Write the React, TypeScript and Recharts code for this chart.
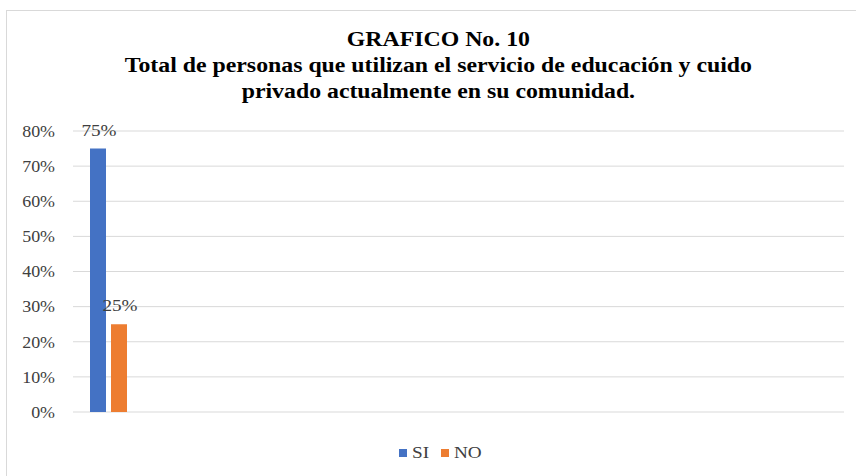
import { Bar, BarChart, CartesianGrid, LabelList, Legend, XAxis, YAxis } from "recharts";

const categories = ["Actualmente"];
const seriesNames = ["SI", "NO"];
const seriesColors = ["#4472C4", "#ED7D31"];
const siValues = [75];
const noValues = [25];
const yTicks = [0, 10, 20, 30, 40, 50, 60, 70, 80];

const data = categories.map((name, i) => ({ name, SI: siValues[i], NO: noValues[i] }));

const serif = '"Liberation Serif", "Times New Roman", serif';
const stretch = 1.2;

const pct = (v: number) => `${v}%`;

// Excel export looks horizontally stretched, so text is widened a bit
const YTick = ({ x, y, payload }: any) => (
  <text
    transform={`translate(${x},${y}) scale(1.12,1)`}
    textAnchor="end"
    dy="0.36em"
    fontSize={16}
    fontFamily={serif}
    fill="#404040"
  >
    {pct(payload.value)}
  </text>
);

const BarLabel = ({ x, y, width, value }: any) => (
  <text
    transform={`translate(${Number(x) + Number(width) / 2 + 1},${Number(y) - 13}) scale(${stretch},1)`}
    textAnchor="middle"
    fontSize={16}
    fontFamily={serif}
    fill="#404040"
  >
    {pct(value)}
  </text>
);

const LegendContent = () => (
  <div style={{ display: "flex", justifyContent: "center", alignItems: "center", height: 18, paddingLeft: 36 }}>
    {seriesNames.map((name, i) => (
      <div key={name} style={{ display: "flex", alignItems: "center", marginRight: i === 0 ? 11 : 0 }}>
        <span style={{ width: 8, height: 8, background: seriesColors[i], marginRight: 5 }} />
        <span
          style={{
            display: "inline-block",
            fontSize: 16,
            fontFamily: serif,
            color: "#404040",
            transform: `scaleX(${stretch})`,
            transformOrigin: "left center",
            marginRight: name.length * 2,
          }}
        >
          {name}
        </span>
      </div>
    ))}
  </div>
);

export default function App() {
  return (
    <div
      style={{
        position: "absolute",
        left: 0,
        top: 0,
        width: 856,
        height: 476,
        background: "#fff",
        overflow: "hidden",
        fontFamily: serif,
      }}
    >
      <div
        style={{
          position: "absolute",
          left: 6,
          top: 10,
          width: 860,
          height: 480,
          borderTop: "1px solid #d9d9d9",
          borderLeft: "1px solid #d9d9d9",
        }}
      />
      <div
        style={{
          position: "absolute",
          top: 26,
          left: 6,
          width: 864,
          textAlign: "center",
          fontWeight: "bold",
          fontSize: 20,
          lineHeight: "26px",
          color: "#000",
          transform: "scaleX(1.19)",
          transformOrigin: "430px 0",
        }}
      >
        GRAFICO No. 10
        <br />
        Total de personas que utilizan el servicio de educación y cuido
        <br />
        privado actualmente en su comunidad.
      </div>
      <div style={{ position: "absolute", left: 0, top: 0 }}>
        <BarChart
          width={856}
          height={476}
          data={data}
          margin={{ top: 131, right: 12, left: 0, bottom: 46 }}
          barGap={5}
        >
          <CartesianGrid vertical={false} stroke="#d9d9d9" />
          <XAxis dataKey="name" hide padding={{ left: 0, right: 701 }} />
          <YAxis
            width={73}
            domain={[0, 80]}
            ticks={yTicks}
            axisLine={false}
            tickLine={false}
            tickSize={0}
            tickMargin={18}
            tick={<YTick />}
          />
          <Legend verticalAlign="bottom" content={<LegendContent />} wrapperStyle={{ bottom: 14 }} />
          <Bar dataKey="SI" fill={seriesColors[0]} barSize={16} isAnimationActive={false}>
            <LabelList dataKey="SI" content={<BarLabel />} />
          </Bar>
          <Bar dataKey="NO" fill={seriesColors[1]} barSize={16} isAnimationActive={false}>
            <LabelList dataKey="NO" content={<BarLabel />} />
          </Bar>
        </BarChart>
      </div>
    </div>
  );
}
